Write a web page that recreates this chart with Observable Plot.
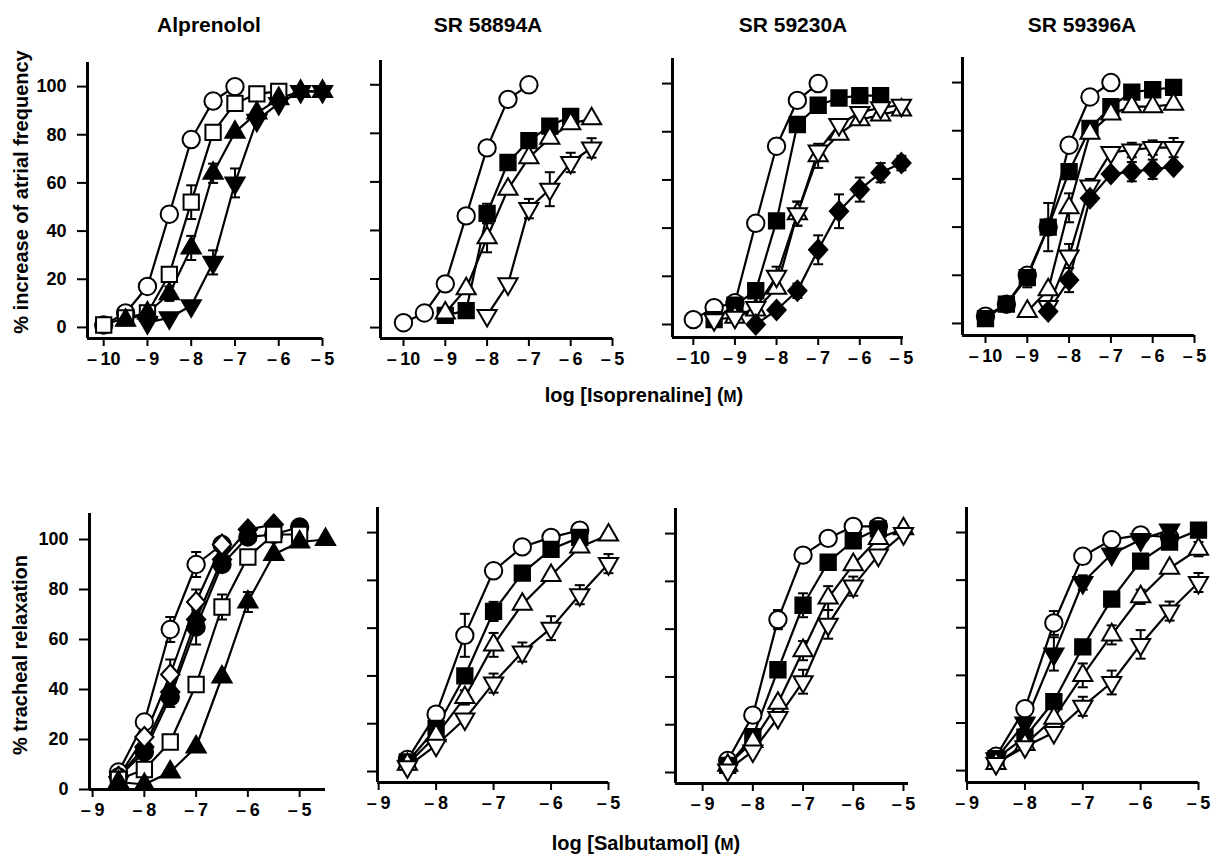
<!DOCTYPE html>
<html><head><meta charset="utf-8">
<script src="https://cdn.jsdelivr.net/npm/d3@7"></script>
<script src="https://cdn.jsdelivr.net/npm/@observablehq/plot@0.6"></script>
<style>
body{margin:0;background:#fff;}
#fig{position:relative;width:1215px;height:854px;overflow:hidden;font-family:"Liberation Sans",Arial,Helvetica,sans-serif;font-weight:bold;color:#000;}
.lbl{position:absolute;white-space:nowrap;transform:translate(-50%,-50%);}
.rot{transform:translate(-50%,-50%) rotate(-90deg);}
.wrap{position:absolute;}
.sc{font-size:0.78em;}
</style></head><body><div id="fig"></div>
<script>
// ---------- data (log molar concentration on x, % response on y) ----------
const isoX = [-10, -9.5, -9, -8.5, -8, -7.5, -7, -6.5, -6, -5.5, -5];
const salX = [-8.5, -8, -7.5, -7, -6.5, -6, -5.5, -5, -4.5];
const isoTicks = [-10, -9, -8, -7, -6, -5];
const salTicks = [-9, -8, -7, -6, -5];
const yTicks = [0, 20, 40, 60, 80, 100];
const topTitles = ["Alprenolol", "SR 58894A", "SR 59230A", "SR 59396A"];

// Isoprenaline – Alprenolol
const alpIsoCircle   = [1, 6, 17, 47, 78, 94, 100, null, null, null, null];
const alpIsoSquare   = [1, 4, 6, 22, 52, 81, 93, 97, 98, null, null];
const alpIsoSquareE  = [0, 0, 0, 0, 7, 0, 0, 0, 0, 0, 0];
const alpIsoTriUp    = [null, 3, 6, 14, 33, 64, 81, 89, 95, 98, 98];
const alpIsoTriUpE   = [0, 0, 0, 3, 5, 4, 0, 0, 0, 0, 0];
const alpIsoTriDn    = [null, null, 2, 4, 9, 27, 60, 86, 93, 98, 98];
const alpIsoTriDnE   = [0, 0, 0, 0, 0, 5, 6, 0, 0, 0, 0];
// Isoprenaline – SR 58894A
const a58IsoCircle   = [2, 6, 18, 46, 74, 94, 100, null, null, null, null];
const a58IsoSquare   = [null, null, 5, 7, 47, 68, 77, 83, 87, null, null];
const a58IsoSquareE  = [0, 0, 0, 0, 4, 0, 0, 0, 0, 0, 0];
const a58IsoTriUp    = [null, null, 6, 16, 37, 57, 70, 78, 84, 86, null];
const a58IsoTriUpE   = [0, 0, 0, 0, 6, 0, 0, 0, 0, 0, 0];
const a58IsoTriDn    = [null, null, null, null, 5, 18, 49, 57, 68, 74, null];
const a58IsoTriDnE   = [0, 0, 0, 0, 0, 0, 4, 7, 4, 4, 0];
// Isoprenaline – SR 59230A
const b59IsoCircle   = [2, 7, 9, 42, 74, 93, 100, null, null, null, null];
const b59IsoSquare   = [null, 2, 8, 14, 43, 83, 91, 94, 95, 95, null];
const b59IsoTriUp    = [null, null, 3, 6, 15, 46, 70, 79, 85, 87, 89];
const b59IsoTriUpE   = [0, 0, 0, 0, 0, 5, 5, 0, 0, 0, 0];
const b59IsoTriDn    = [null, 2, 3, 7, 20, 46, 72, 83, 88, 90, 91];
const b59IsoTriDnE   = [0, 0, 0, 0, 4, 5, 0, 0, 0, 0, 0];
const b59IsoDiamond  = [null, null, null, 0, 6, 14, 31, 47, 56, 63, 67];
const b59IsoDiamondE = [0, 0, 0, 0, 0, 3, 6, 7, 5, 4, 3];
// Isoprenaline – SR 59396A
const c59IsoCircle   = [3, 8, 20, 40, 74, 94, 100, null, null, null, null];
const c59IsoSquare   = [2, 8, 19, 40, 63, 81, 90, 96, 97, 98, null];
const c59IsoSquareE  = [0, 0, 4, 10, 0, 0, 0, 0, 0, 0, 0];
const c59IsoTriUp    = [null, null, 5, 14, 48, 79, 87, 90, 90, 91, null];
const c59IsoTriUpE   = [0, 0, 0, 0, 6, 0, 0, 0, 0, 0, 0];
const c59IsoTriDn    = [null, null, null, 7, 28, 57, 71, 72, 73, 73, null];
const c59IsoTriDnE   = [0, 0, 0, 0, 5, 3, 0, 3, 3, 4, 0];
const c59IsoDiamond  = [null, null, null, 5, 18, 52, 62, 63, 64, 65, null];
const c59IsoDiamondE = [0, 0, 0, 0, 5, 0, 0, 4, 4, 0, 0];

// Salbutamol – Alprenolol
const alpSalCircle    = [7, 27, 64, 90, 98, null, null, null, null];
const alpSalCircleE   = [0, 0, 5, 5, 0, 0, 0, 0, 0];
const alpSalDiamondF  = [5, 17, 39, 68, 92, 104, 106, null, null];
const alpSalDot       = [5, 15, 37, 65, 90, 101, 102, 105, null];
const alpSalDotE      = [0, 0, 4, 7, 0, 0, 0, 0, 0];
const alpSalDiamond   = [5, 21, 46, 75, 98, null, null, null, null];
const alpSalDiamondE  = [0, 0, 6, 5, 0, 0, 0, 0, 0];
const alpSalSquare    = [4, 8, 19, 42, 73, 93, 102, 102, null];
const alpSalSquareE   = [0, 0, 0, 3, 5, 0, 0, 0, 0];
const alpSalTriUp     = [3, 2, 7, 17, 45, 75, 94, 99, 100];
const alpSalTriUpE    = [0, 0, 0, 0, 0, 4, 0, 0, 0];
// Salbutamol – SR 58894A
const a58SalCircle    = [5, 24, 57, 84, 94, 98, 101, null, null];
const a58SalCircleE   = [0, 0, 9, 0, 0, 0, 0, 0, 0];
const a58SalSquare    = [4, 18, 40, 67, 83, 93, 98, null, null];
const a58SalSquareE   = [0, 0, 0, 4, 0, 0, 0, 0, 0];
const a58SalTriUp     = [3, 15, 31, 53, 70, 82, 94, 99, null];
const a58SalTriUpE    = [0, 0, 3, 5, 0, 0, 0, 0, 0];
const a58SalTriDn     = [2, 11, 22, 37, 50, 60, 74, 87, null];
const a58SalTriDnE    = [0, 0, 0, 4, 4, 5, 4, 4, 0];
// Salbutamol – SR 59230A
const b59SalCircle    = [5, 24, 64, 91, 98, 103, 103, null, null];
const b59SalCircleE   = [0, 0, 4, 0, 0, 0, 0, 0, 0];
const b59SalSquare    = [3, 15, 43, 70, 88, 97, 102, null, null];
const b59SalSquareE   = [0, 0, 3, 5, 0, 0, 0, 0, 0];
const b59SalTriUp     = [3, 13, 29, 51, 73, 87, 98, 102, null];
const b59SalTriUpE    = [0, 0, 0, 4, 5, 0, 0, 0, 0];
const b59SalTriDn     = [1, 9, 23, 38, 62, 78, 91, 100, null];
const b59SalTriDnE    = [0, 0, 0, 5, 6, 4, 0, 0, 0];
// Salbutamol – SR 59396A
const c59SalCircle    = [6, 26, 62, 90, 97, 99, 98, null, null];
const c59SalCircleE   = [0, 0, 5, 0, 0, 0, 0, 0, 0];
const c59SalTriDnF    = [5, 20, 49, 79, 91, 97, 101, null, null];
const c59SalTriDnFE   = [0, 0, 7, 3, 0, 0, 0, 0, 0];
const c59SalSquare    = [5, 14, 29, 52, 72, 88, 96, 101, null];
const c59SalTriUp     = [3, 11, 22, 40, 57, 73, 85, 93, null];
const c59SalTriUpE    = [0, 0, 0, 5, 4, 3, 0, 3, 0];
const c59SalTriDn     = [3, 10, 16, 27, 37, 53, 67, 79, null];
const c59SalTriDnE    = [0, 0, 0, 4, 5, 6, 4, 4, 0];

// ---------- symbols ----------
const R = 8.7;
const SYM = {
  circle: {draw(c, s) { const r = Math.sqrt(s / Math.PI); c.moveTo(r, 0); c.arc(0, 0, r, 0, 2 * Math.PI); c.closePath(); }},
  square: {draw(c, s) { const r = Math.sqrt(s / Math.PI) * 0.88; c.rect(-r, -r, 2 * r, 2 * r); }},
  triUp: {draw(c, s) { const r = Math.sqrt(s / Math.PI); const L = 2.2 * r, h = L * Math.sqrt(3) / 2;
    c.moveTo(0, -2 * h / 3); c.lineTo(L / 2, h / 3); c.lineTo(-L / 2, h / 3); c.closePath(); }},
  triDn: {draw(c, s) { const r = Math.sqrt(s / Math.PI); const L = 2.2 * r, h = L * Math.sqrt(3) / 2;
    c.moveTo(0, 2 * h / 3); c.lineTo(L / 2, -h / 3); c.lineTo(-L / 2, -h / 3); c.closePath(); }},
  diamond: {draw(c, s) { const r = Math.sqrt(s / Math.PI); const a = 1.05 * r, b = 1.15 * r;
    c.moveTo(0, -b); c.lineTo(a, 0); c.lineTo(0, b); c.lineTo(-a, 0); c.closePath(); }},
  cap: {draw(c) { c.moveTo(-5, 0); c.lineTo(5, 0); }}
};
const W = "white", K = "black";
const S = (y, sym, fill, e) => ({y, sym, fill, e});

const panels = [
  {xs: isoX, ticks: isoTicks, left: 87, right: 322, top: 62, bottom: 338, xdom: [-10.37, -5], ydom: [-4.6, 110], labels: true,
   series: [S(alpIsoCircle, "circle", W), S(alpIsoSquare, "square", W, alpIsoSquareE), S(alpIsoTriUp, "triUp", K, alpIsoTriUpE), S(alpIsoTriDn, "triDn", K, alpIsoTriDnE)]},
  {xs: isoX, ticks: isoTicks, left: 380, right: 612, top: 60, bottom: 338, xdom: [-10.55, -5], ydom: [-4.5, 110],
   series: [S(a58IsoCircle, "circle", W), S(a58IsoSquare, "square", K, a58IsoSquareE), S(a58IsoTriUp, "triUp", W, a58IsoTriUpE), S(a58IsoTriDn, "triDn", W, a58IsoTriDnE)]},
  {xs: isoX, ticks: isoTicks, left: 672, right: 903, top: 58, bottom: 337, xdom: [-10.5, -4.95], ydom: [-5.4, 110.4],
   series: [S(b59IsoCircle, "circle", W), S(b59IsoSquare, "square", K), S(b59IsoTriUp, "triUp", W, b59IsoTriUpE), S(b59IsoTriDn, "triDn", W, b59IsoTriDnE), S(b59IsoDiamond, "diamond", K, b59IsoDiamondE)]},
  {xs: isoX, ticks: isoTicks, left: 962, right: 1194, top: 57, bottom: 335, xdom: [-10.55, -5], ydom: [-5, 110.4],
   series: [S(c59IsoCircle, "circle", W), S(c59IsoSquare, "square", K, c59IsoSquareE), S(c59IsoTriUp, "triUp", W, c59IsoTriUpE), S(c59IsoTriDn, "triDn", W, c59IsoTriDnE), S(c59IsoDiamond, "diamond", K, c59IsoDiamondE)]},
  {xs: salX, ticks: salTicks, left: 89, right: 325, top: 513, bottom: 789, xdom: [-9.06, -4.5], ydom: [0, 110.4], labels: true,
   series: [S(alpSalCircle, "circle", W, alpSalCircleE), S(alpSalDiamondF, "diamond", K), S(alpSalDot, "circle", K, alpSalDotE), S(alpSalDiamond, "diamond", W, alpSalDiamondE), S(alpSalSquare, "square", W, alpSalSquareE), S(alpSalTriUp, "triUp", K, alpSalTriUpE)]},
  {xs: salX, ticks: salTicks, left: 377, right: 608, top: 507, bottom: 782, xdom: [-9.02, -5], ydom: [-4.6, 110.5],
   series: [S(a58SalCircle, "circle", W, a58SalCircleE), S(a58SalSquare, "square", K, a58SalSquareE), S(a58SalTriUp, "triUp", W, a58SalTriUpE), S(a58SalTriDn, "triDn", W, a58SalTriDnE)]},
  {xs: salX, ticks: salTicks, left: 675, right: 908, top: 508, bottom: 783, xdom: [-9.54, -4.9], ydom: [-4.6, 110.5],
   series: [S(b59SalCircle, "circle", W, b59SalCircleE), S(b59SalSquare, "square", K, b59SalSquareE), S(b59SalTriUp, "triUp", W, b59SalTriUpE), S(b59SalTriDn, "triDn", W, b59SalTriDnE)]},
  {xs: salX, ticks: salTicks, left: 966, right: 1198, top: 507, bottom: 782, xdom: [-9.01, -5], ydom: [-5, 110.5],
   series: [S(c59SalCircle, "circle", W, c59SalCircleE), S(c59SalTriDnF, "triDn", K, c59SalTriDnFE), S(c59SalSquare, "square", K), S(c59SalTriUp, "triUp", W, c59SalTriUpE), S(c59SalTriDn, "triDn", W, c59SalTriDnE)]}
];

const fmt = d => d < 0 ? "\u2013\u2009" + Math.abs(d) : String(d);
const fig = document.getElementById("fig");

function rows(xs, s) {
  return xs.map((x, i) => ({x, y: s.y[i], e: s.e ? s.e[i] : 0})).filter(d => d.y != null);
}

panels.forEach(p => {
  const ml = p.labels ? 80 : 20, mt = 10, mr = 15, mb = 45;
  const marks = [
    Plot.axisY({ticks: yTicks, tickSize: 10, tickPadding: p.labels ? 11 : 0, tickFormat: p.labels ? fmt : () => "", strokeWidth: 2, label: null}),
    Plot.axisX({ticks: p.ticks, tickSize: 8, tickPadding: 6, tickFormat: fmt, strokeWidth: 2, label: null}),
    Plot.ruleX([p.xdom[0]], {stroke: K, strokeWidth: 3}),
    Plot.ruleY([p.ydom[0]], {stroke: K, strokeWidth: 3})
  ];
  const data = p.series.map(s => rows(p.xs, s));
  data.forEach(d => marks.push(Plot.line(d, {x: "x", y: "y", stroke: K, strokeWidth: 2.2})));
  data.forEach(d => {
    const eb = d.filter(r => r.e > 0);
    if (!eb.length) return;
    marks.push(Plot.ruleX(eb, {x: "x", y1: r => r.y - r.e, y2: r => r.y + r.e, stroke: K, strokeWidth: 2}));
    marks.push(Plot.dot(eb, {x: "x", y: r => r.y + r.e, symbol: SYM.cap, r: 5, fill: "none", stroke: K, strokeWidth: 2}));
    marks.push(Plot.dot(eb, {x: "x", y: r => r.y - r.e, symbol: SYM.cap, r: 5, fill: "none", stroke: K, strokeWidth: 2}));
  });
  p.series.forEach((s, i) => marks.push(Plot.dot(data[i], {x: "x", y: "y", symbol: SYM[s.sym], r: R, fill: s.fill, stroke: K, strokeWidth: 2})));
  const chart = Plot.plot({
    width: ml + (p.right - p.left) + mr,
    height: mt + (p.bottom - p.top) + mb,
    marginLeft: ml, marginTop: mt, marginRight: mr, marginBottom: mb,
    x: {domain: p.xdom}, y: {domain: p.ydom},
    style: {background: "transparent", fontFamily: '"Liberation Sans", Arial, sans-serif', fontSize: "18px", fontWeight: "bold", color: "black", overflow: "visible"},
    marks
  });
  const wrap = document.createElement("div");
  wrap.className = "wrap";
  wrap.style.left = (p.left - ml) + "px";
  wrap.style.top = (p.top - mt) + "px";
  wrap.appendChild(chart);
  fig.appendChild(wrap);
});

function label(html, x, y, size, rot) {
  const d = document.createElement("div");
  d.className = "lbl" + (rot ? " rot" : "");
  d.style.left = x + "px"; d.style.top = y + "px"; d.style.fontSize = size + "px";
  d.innerHTML = html;
  fig.appendChild(d);
}
[209, 488, 793, 1082].forEach((x, i) => label(topTitles[i], x, 25, 21));
label("% increase of atrial frequency", 21, 192, 20, true);
label("% tracheal relaxation", 20, 655, 20, true);
label('log [Isoprenaline] (<span class="sc">M</span>)', 644, 395, 20);
label('log [Salbutamol] (<span class="sc">M</span>)', 646, 843, 20);
</script></body></html>
